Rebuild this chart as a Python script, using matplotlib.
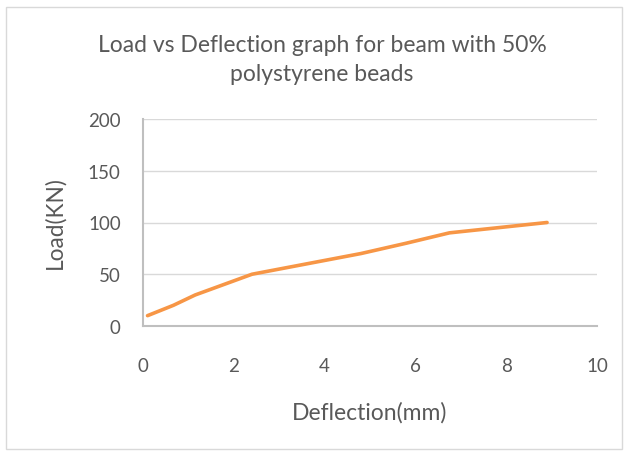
import matplotlib
matplotlib.use("Agg")
import matplotlib.pyplot as plt
from matplotlib.patches import Rectangle

# data
deflection = [0.1, 0.67, 1.15, 2.4, 3.6, 4.8, 5.8, 6.75, 8.9]
load = [10, 20, 30, 50, 60, 70, 80, 90, 100]

x_ticks = [0, 2, 4, 6, 8, 10]
y_ticks = [0, 50, 100, 150, 200]

plt.rcParams['font.family'] = ['Lato', 'DejaVu Sans']
txt = '#595959'

fig = plt.figure(figsize=(6.27, 4.56), dpi=100)
W, H = 627, 456
ax = fig.add_axes([143 / W, 1 - 327 / H, (597 - 143) / W, (327 - 120) / H])

# chart border
fig.patches.append(Rectangle((6 / W, 1 - 450 / H), 616 / W, 442 / H, transform=fig.transFigure,
                             fill=False, edgecolor='#d9d9d9', lw=1))

ax.plot(deflection, load, color='#F79646', lw=2.6, solid_capstyle='round')

ax.set_xlim(0, 10)
ax.set_ylim(0, 200)
ax.set_xticks(x_ticks)
ax.set_yticks(y_ticks)
ax.grid(axis='y', color='#d9d9d9', lw=1)
ax.set_axisbelow(True)
for s in ['top', 'right']:
    ax.spines[s].set_visible(False)
for s in ['left', 'bottom']:
    ax.spines[s].set_color('#bfbfbf')
    ax.spines[s].set_linewidth(1.5)
ax.tick_params(length=0, labelsize=13.5, colors=txt)
ax.tick_params(axis='x', pad=22)
ax.tick_params(axis='y', pad=16)

fig.text(370 / W, 1 - 413 / H, 'Deflection(mm)', ha='center', va='center', fontsize=16.5, color=txt)
fig.text(55 / W, 1 - 223 / H, 'Load(KN)', ha='center', va='center', rotation=90, fontsize=16.3, color=txt)
fig.text(322 / W, 1 - 60 / H, 'Load vs Deflection graph for beam with 50%\npolystyrene beads',
         ha='center', va='center', fontsize=16.5, color=txt, linespacing=1.45)

fig.savefig('out.png', dpi=100)
